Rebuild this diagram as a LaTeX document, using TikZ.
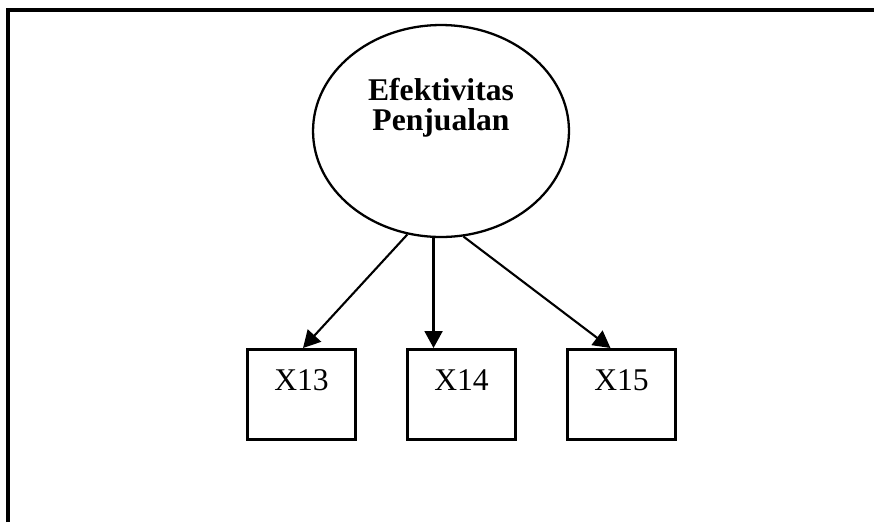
\documentclass[tikz,border=0pt]{standalone}
\usepackage{fontspec}
\setmainfont{Liberation Serif}
\usetikzlibrary{arrows.meta,positioning,shapes.geometric}

\begin{document}
\begin{tikzpicture}[x=0.02cm, y=-0.02cm,
    latent/.style={draw, ellipse, line width=1.3pt, inner sep=0pt,
      minimum width=5.12cm, minimum height=4.24cm},
    indicator/.style={draw, rectangle, line width=1.5pt, inner xsep=0pt, inner ysep=0pt,
      minimum width=2.16cm, text height=0.82cm, text depth=0.98cm,
      anchor=north, font=\fontsize{18pt}{20pt}\selectfont},
    loading/.style={line width=1.2pt, -{Triangle[length=0.34cm, width=0.36cm]}}]
  \useasboundingbox (0,0) rectangle (874,522);

  % Outer frame (top and left edge only)
  \draw[line width=1.8pt] (8,522) -- (8,10) -- (874,10);

  % Latent variable
  \node[latent] (lat) at (441,131) {};
  \node[font=\bfseries\fontsize{18pt}{17pt}\selectfont, align=center, anchor=base]
    (latname) at (441,130) {Efektivitas\\Penjualan};

  % Indicators
  \node[indicator] (x13) at (301.5,348) {X13\hspace{0.2cm}};
  \node[indicator] (x14) at (461.5,348) {X14\hspace{0.2cm}};
  \node[indicator] (x15) at (621.5,348) {X15\hspace{0.2cm}};

  % Loadings
  \draw[loading] (lat.252) -- ([xshift=0.03cm]x13.north);
  \draw[loading] (lat.266) -- (lat.266 |- x14.north);
  \draw[loading] (lat.282) -- ([xshift=-0.22cm]x15.north);
\end{tikzpicture}
\end{document}
